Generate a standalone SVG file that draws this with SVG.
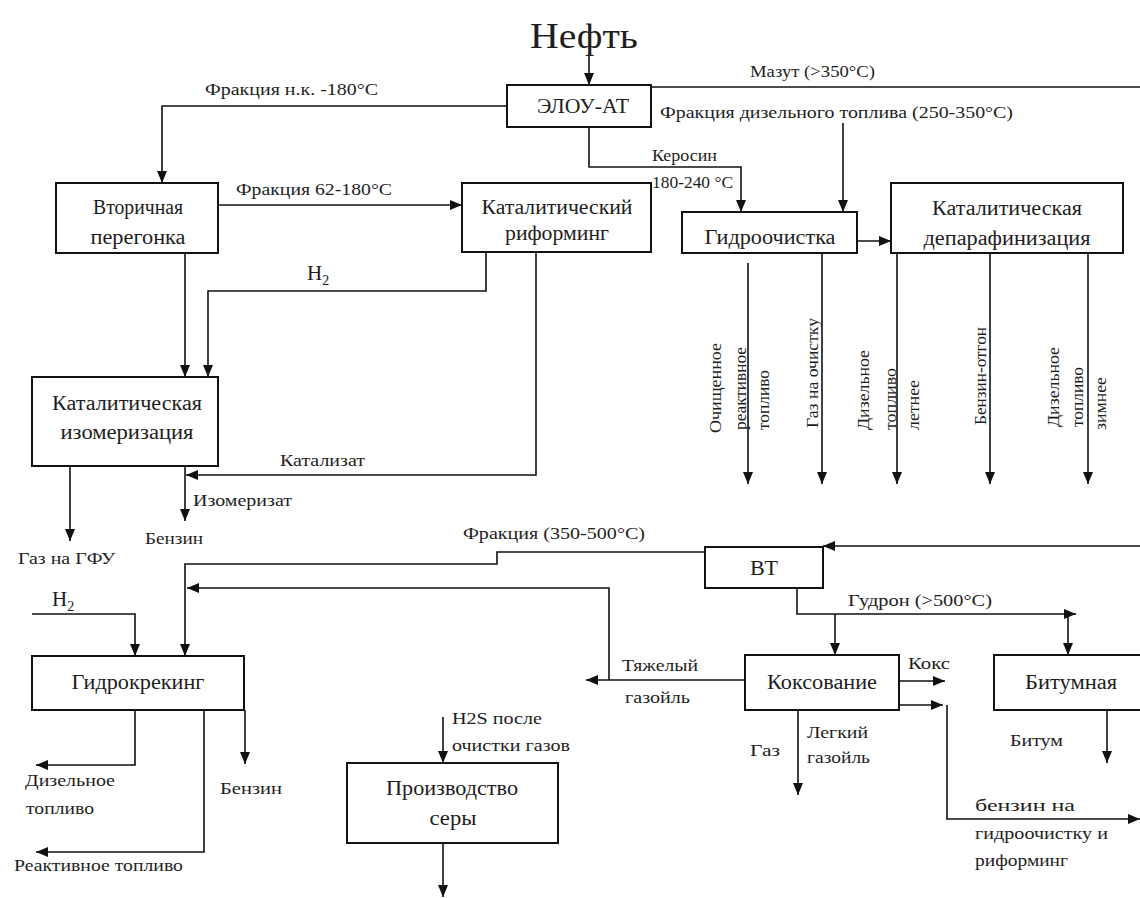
<svg xmlns="http://www.w3.org/2000/svg" width="1140" height="898" viewBox="0 0 1140 898">
<style>
text{font-family:"Liberation Serif","DejaVu Serif",serif;fill:#1e1e1e}
.bx{fill:#fff;stroke:#111;stroke-width:2}
.bt{font-size:20px;text-anchor:middle}
.lb{font-size:17.5px}
.rl{font-size:16px}
.ln{fill:none;stroke:#111;stroke-width:1.6}
.ar{marker-end:url(#ah)}
</style>
<defs>
<marker id="ah" viewBox="0 0 12 10" refX="12" refY="5" markerWidth="12" markerHeight="10" markerUnits="userSpaceOnUse" orient="auto"><path d="M0,0 L12,5 L0,10 z" fill="#111"/></marker>
</defs>
<rect width="1140" height="898" fill="#fff"/>

<g id="connectors">
<path class="ln ar" d="M589,56 V85"/>
<path class="ln ar" d="M507,106 H162 V183"/>
<path class="ln" d="M651,87 H1140"/>
<path class="ln ar" d="M589,127 V167 H741 V212"/>
<path class="ln ar" d="M843,123 V212"/>
<path class="ln ar" d="M218,205 H462"/>
<path class="ln ar" d="M857,241 H891"/>
<path class="ln ar" d="M185,253 V377"/>
<path class="ln ar" d="M486,253 V291 H208 V377"/>
<path class="ln ar" d="M536,253 V475 H186"/>
<path class="ln ar" d="M185,466 V521"/>
<path class="ln ar" d="M70,466 V541"/>
<path class="ln ar" d="M748,263 V484"/>
<path class="ln ar" d="M822,253 V484"/>
<path class="ln ar" d="M897,253 V484"/>
<path class="ln ar" d="M990,253 V484"/>
<path class="ln ar" d="M1088,253 V484"/>
<path class="ln ar" d="M705,552 H497 V564 H185 V656"/>
<path class="ln ar" d="M745,680 H586"/>
<path class="ln ar" d="M609,680 V588 H187"/>
<path class="ln ar" d="M32,614 H135 V656"/>
<path class="ln ar" d="M135,710 V765 H36"/>
<path class="ln ar" d="M204,710 V852 H36"/>
<path class="ln ar" d="M245,710 V764"/>
<path class="ln ar" d="M443,717 V763"/>
<path class="ln ar" d="M443,843 V897"/>
<path class="ln ar" d="M1140,546 H823"/>
<path class="ln ar" d="M797,588 V614 H1076"/>
<path class="ln ar" d="M1068,614 V655"/>
<path class="ln ar" d="M835,614 V655"/>
<path class="ln ar" d="M899,681 H945"/>
<path class="ln ar" d="M899,705 H943"/>
<path class="ln ar" d="M947,705 V819 H1140"/>
<path class="ln ar" d="M798,710 V795"/>
<path class="ln ar" d="M1107,710 V763"/>
</g>

<g id="n-neft"><text x="530" y="48" style="font-size:36px" textLength="108" lengthAdjust="spacingAndGlyphs">Нефть</text></g>
<g id="n-elou"><rect class="bx" x="507" y="85" width="144" height="42"/><text class="bt" x="583" y="113" textLength="92" lengthAdjust="spacingAndGlyphs">ЭЛОУ-АТ</text></g>
<g id="n-vtorichnaya"><rect class="bx" x="56" y="183" width="162" height="70"/><text class="bt" x="138" y="214" textLength="90" lengthAdjust="spacingAndGlyphs">Вторичная</text><text class="bt" x="138" y="244" textLength="95" lengthAdjust="spacingAndGlyphs">перегонка</text></g>
<g id="n-riforming"><rect class="bx" x="462" y="183" width="189" height="69"/><text class="bt" x="557" y="214" textLength="151" lengthAdjust="spacingAndGlyphs">Каталитический</text><text class="bt" x="557" y="240" textLength="104" lengthAdjust="spacingAndGlyphs">риформинг</text></g>
<g id="n-gidroochistka"><rect class="bx" x="682" y="212" width="175" height="41"/><text class="bt" x="770" y="244" textLength="131" lengthAdjust="spacingAndGlyphs">Гидроочистка</text></g>
<g id="n-deparafin"><rect class="bx" x="891" y="183" width="232" height="70"/><text class="bt" x="1007" y="215" textLength="150" lengthAdjust="spacingAndGlyphs">Каталитическая</text><text class="bt" x="1007" y="245" textLength="167" lengthAdjust="spacingAndGlyphs">депарафинизация</text></g>
<g id="n-izomer"><rect class="bx" x="32" y="377" width="186" height="89"/><text class="bt" x="127" y="410" textLength="150" lengthAdjust="spacingAndGlyphs">Каталитическая</text><text class="bt" x="127" y="439" textLength="133" lengthAdjust="spacingAndGlyphs">изомеризация</text></g>
<g id="n-gidrokreking"><rect class="bx" x="32" y="656" width="212" height="54"/><text class="bt" x="138" y="689" textLength="133" lengthAdjust="spacingAndGlyphs">Гидрокрекинг</text></g>
<g id="n-sera"><rect class="bx" x="347" y="763" width="211" height="80"/><text class="bt" x="452" y="795" textLength="132" lengthAdjust="spacingAndGlyphs">Производство</text><text class="bt" x="453" y="825" textLength="47" lengthAdjust="spacingAndGlyphs">серы</text></g>
<g id="n-vt"><rect class="bx" x="705" y="547" width="118" height="41"/><text class="bt" x="764" y="575" textLength="28" lengthAdjust="spacingAndGlyphs">ВТ</text></g>
<g id="n-koksovanie"><rect class="bx" x="745" y="655" width="154" height="55"/><text class="bt" x="822" y="689" textLength="110" lengthAdjust="spacingAndGlyphs">Коксование</text></g>
<g id="n-bitum"><rect class="bx" x="994" y="655" width="160" height="55"/><text class="bt" x="1071" y="689" textLength="92" lengthAdjust="spacingAndGlyphs">Битумная</text></g>

<g id="labels">
<text class="lb" x="205" y="95" textLength="173" lengthAdjust="spacingAndGlyphs">Фракция н.к. -180°С</text>
<text class="lb" x="750" y="77" textLength="125" lengthAdjust="spacingAndGlyphs">Мазут (&gt;350°С)</text>
<text class="lb" x="660" y="118" textLength="353" lengthAdjust="spacingAndGlyphs">Фракция дизельного топлива (250-350°С)</text>
<text class="lb" x="652" y="161" textLength="65" lengthAdjust="spacingAndGlyphs">Керосин</text>
<text class="lb" x="652" y="188" textLength="81" lengthAdjust="spacingAndGlyphs">180-240 °С</text>
<text class="lb" x="236" y="195" textLength="156" lengthAdjust="spacingAndGlyphs">Фракция 62-180°С</text>
<text x="307" y="280" style="font-size:21px">H<tspan dy="5" style="font-size:14px">2</tspan></text>
<text class="lb" x="280" y="466" textLength="85" lengthAdjust="spacingAndGlyphs">Катализат</text>
<text class="lb" x="193" y="506" textLength="99" lengthAdjust="spacingAndGlyphs">Изомеризат</text>
<text class="lb" x="145" y="544" textLength="58" lengthAdjust="spacingAndGlyphs">Бензин</text>
<text class="lb" x="18" y="564" textLength="97" lengthAdjust="spacingAndGlyphs">Газ на ГФУ</text>
<text class="lb" x="463" y="539" textLength="182" lengthAdjust="spacingAndGlyphs">Фракция (350-500°С)</text>
<text x="52" y="606" style="font-size:21px">H<tspan dy="5" style="font-size:14px">2</tspan></text>
<text class="lb" x="622" y="671" textLength="76" lengthAdjust="spacingAndGlyphs">Тяжелый</text>
<text class="lb" x="625" y="703" textLength="65" lengthAdjust="spacingAndGlyphs">газойль</text>
<text class="lb" x="908" y="669" textLength="42" lengthAdjust="spacingAndGlyphs">Кокс</text>
<text class="lb" x="848" y="606" textLength="144" lengthAdjust="spacingAndGlyphs">Гудрон (&gt;500°С)</text>
<text class="lb" x="807" y="738" textLength="61" lengthAdjust="spacingAndGlyphs">Легкий</text>
<text class="lb" x="807" y="763" textLength="63" lengthAdjust="spacingAndGlyphs">газойль</text>
<text class="lb" x="750" y="756" textLength="30" lengthAdjust="spacingAndGlyphs">Газ</text>
<text class="lb" x="1010" y="746" textLength="53" lengthAdjust="spacingAndGlyphs">Битум</text>
<text class="lb" x="975" y="811" textLength="100" lengthAdjust="spacingAndGlyphs">бензин на</text>
<text class="lb" x="975" y="839" textLength="133" lengthAdjust="spacingAndGlyphs">гидроочистку и</text>
<text class="lb" x="975" y="866" textLength="93" lengthAdjust="spacingAndGlyphs">риформинг</text>
<text class="lb" x="452" y="724" textLength="90" lengthAdjust="spacingAndGlyphs">H2S после</text>
<text class="lb" x="452" y="751" textLength="118" lengthAdjust="spacingAndGlyphs">очистки газов</text>
<text class="lb" x="25" y="786" textLength="90" lengthAdjust="spacingAndGlyphs">Дизельное</text>
<text class="lb" x="26" y="814" textLength="68" lengthAdjust="spacingAndGlyphs">топливо</text>
<text class="lb" x="220" y="794" textLength="62" lengthAdjust="spacingAndGlyphs">Бензин</text>
<text class="lb" x="14" y="871" textLength="169" lengthAdjust="spacingAndGlyphs">Реактивное топливо</text>
<text class="rl" transform="translate(721,433) rotate(-90)" textLength="90" lengthAdjust="spacingAndGlyphs">Очищенное</text>
<text class="rl" transform="translate(746,430) rotate(-90)" textLength="83" lengthAdjust="spacingAndGlyphs">реактивное</text>
<text class="rl" transform="translate(769,430) rotate(-90)" textLength="60" lengthAdjust="spacingAndGlyphs">топливо</text>
<text class="rl" transform="translate(818,428) rotate(-90)" textLength="110" lengthAdjust="spacingAndGlyphs">Газ на очистку</text>
<text class="rl" transform="translate(869,430) rotate(-90)" textLength="80" lengthAdjust="spacingAndGlyphs">Дизельное</text>
<text class="rl" transform="translate(896,430) rotate(-90)" textLength="62" lengthAdjust="spacingAndGlyphs">топливо</text>
<text class="rl" transform="translate(919,430) rotate(-90)" textLength="50" lengthAdjust="spacingAndGlyphs">летнее</text>
<text class="rl" transform="translate(986,425) rotate(-90)" textLength="98" lengthAdjust="spacingAndGlyphs">Бензин-отгон</text>
<text class="rl" transform="translate(1059,427) rotate(-90)" textLength="80" lengthAdjust="spacingAndGlyphs">Дизельное</text>
<text class="rl" transform="translate(1083,427) rotate(-90)" textLength="60" lengthAdjust="spacingAndGlyphs">топливо</text>
<text class="rl" transform="translate(1106,430) rotate(-90)" textLength="53" lengthAdjust="spacingAndGlyphs">зимнее</text>
</g>
</svg>
